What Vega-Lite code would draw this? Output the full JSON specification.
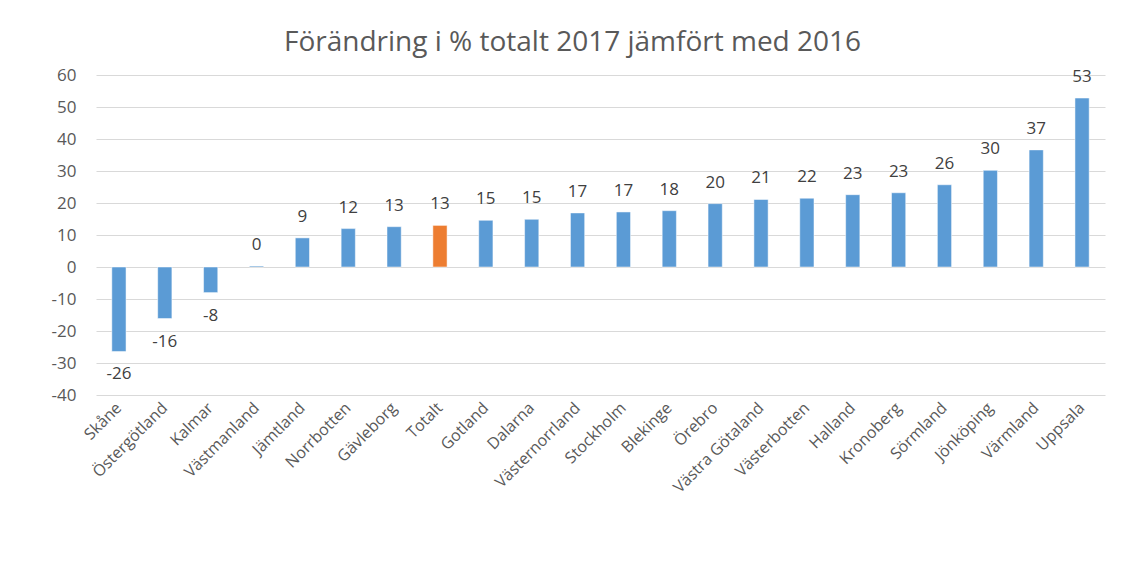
{
  "$schema": "https://vega.github.io/schema/vega-lite/v6.json",
  "autosize": "none",
  "width": 1009,
  "height": 320,
  "padding": {"left": 96, "top": 75, "right": 24, "bottom": 172},
  "background": "white",
  "title": {"text": "Förändring i % totalt 2017 jämfört med 2016", "font": "Open Sans", "fontSize": 28, "fontWeight": "normal", "color": "#595959", "anchor": "middle", "frame": "group", "offset": 9, "dx": -28},
  "data": {"values": [
    {"lan": "Skåne", "value": -26.4, "typ": "lan"},
    {"lan": "Östergötland", "value": -16.1, "typ": "lan"},
    {"lan": "Kalmar", "value": -8.0, "typ": "lan"},
    {"lan": "Västmanland", "value": 0.3, "typ": "lan"},
    {"lan": "Jämtland", "value": 9.1, "typ": "lan"},
    {"lan": "Norrbotten", "value": 12.0, "typ": "lan"},
    {"lan": "Gävleborg", "value": 12.6, "typ": "lan"},
    {"lan": "Totalt", "value": 13.0, "typ": "total"},
    {"lan": "Gotland", "value": 14.6, "typ": "lan"},
    {"lan": "Dalarna", "value": 14.9, "typ": "lan"},
    {"lan": "Västernorrland", "value": 16.9, "typ": "lan"},
    {"lan": "Stockholm", "value": 17.2, "typ": "lan"},
    {"lan": "Blekinge", "value": 17.6, "typ": "lan"},
    {"lan": "Örebro", "value": 19.8, "typ": "lan"},
    {"lan": "Västra Götaland", "value": 21.1, "typ": "lan"},
    {"lan": "Västerbotten", "value": 21.5, "typ": "lan"},
    {"lan": "Halland", "value": 22.6, "typ": "lan"},
    {"lan": "Kronoberg", "value": 23.2, "typ": "lan"},
    {"lan": "Sörmland", "value": 25.7, "typ": "lan"},
    {"lan": "Jönköping", "value": 30.2, "typ": "lan"},
    {"lan": "Värmland", "value": 36.6, "typ": "lan"},
    {"lan": "Uppsala", "value": 52.8, "typ": "lan"}
  ]},
  "encoding": {
    "x": {"field": "lan", "type": "nominal", "sort": null, "title": null,
      "scale": {"paddingInner": 0.69, "paddingOuter": 0.345},
      "axis": {"labelAngle": -45, "labelAlign": "right", "labelBaseline": "middle", "labelFont": "Open Sans", "labelFontSize": 16, "labelColor": "#595959", "labelPadding": 10, "ticks": false, "domain": false, "grid": false, "labelOverlap": false}},
    "y": {"field": "value", "type": "quantitative", "title": null,
      "scale": {"domain": [-40, 60], "nice": false, "zero": false},
      "axis": {"values": [-40, -30, -20, -10, 0, 10, 20, 30, 40, 50, 60], "labelExpr": "datum.value + ''", "labelFont": "Open Sans", "labelFontSize": 17, "labelColor": "#595959", "labelPadding": 20, "ticks": false, "domain": false, "grid": true, "gridColor": "#d9d9d9", "gridWidth": 1}}
  },
  "layer": [
    {"mark": {"type": "bar", "stroke": "white", "strokeWidth": 0.5},
     "encoding": {"color": {"field": "typ", "type": "nominal", "scale": {"domain": ["lan", "total"], "range": ["#5b9bd5", "#ed7d31"]}, "legend": null}}},
    {"transform": [{"filter": "datum.value >= 0"}],
     "mark": {"type": "text", "font": "Open Sans", "fontSize": 17, "color": "#404040", "baseline": "middle", "dy": -21},
     "encoding": {"text": {"field": "value", "type": "quantitative", "format": ".0f"}}},
    {"transform": [{"filter": "datum.value < 0"}],
     "mark": {"type": "text", "font": "Open Sans", "fontSize": 17, "color": "#404040", "baseline": "middle", "dy": 23},
     "encoding": {"text": {"field": "value", "type": "quantitative", "format": ".0f"}}}
  ],
  "config": {"view": {"stroke": null}, "locale": {"number": {"decimal": ".", "thousands": ",", "grouping": [3], "currency": ["$", ""], "minus": "-"}}}
}
